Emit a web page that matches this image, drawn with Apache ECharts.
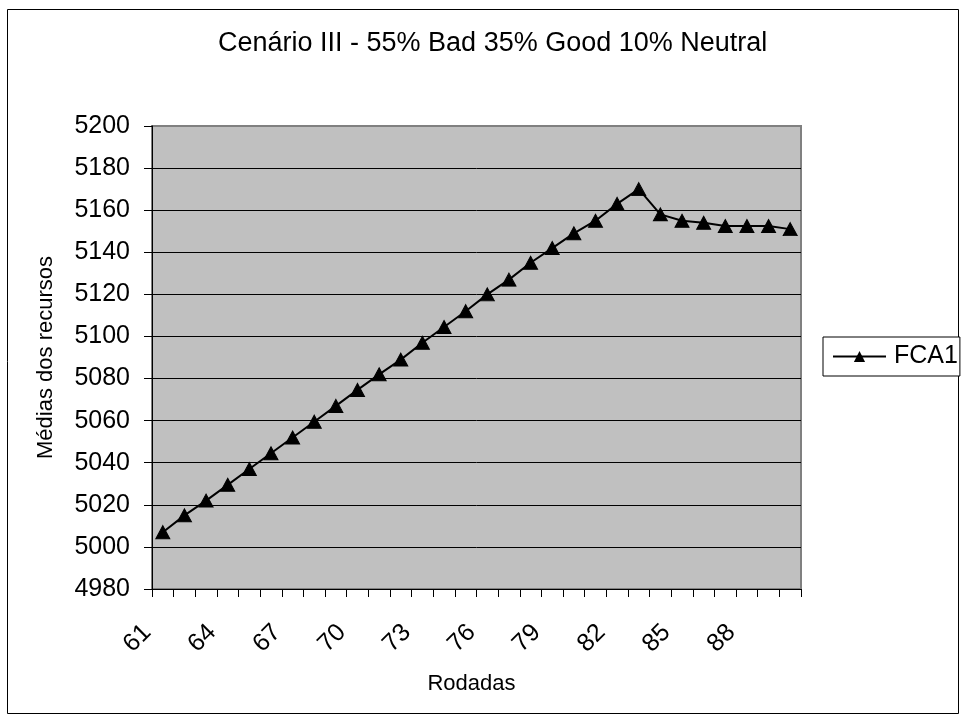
<!DOCTYPE html>
<html>
<head>
<meta charset="utf-8">
<script src="https://cdn.jsdelivr.net/npm/echarts@6/dist/echarts.min.js"></script>
<style>
  html, body { margin: 0; padding: 0; background: #fff; }
  #chart { width: 967px; height: 722px; }
</style>
</head>
<body>
<div id="chart"></div>
<script>
// Rounds 61..90
const rounds = [61, 62, 63, 64, 65, 66, 67, 68, 69, 70,
                71, 72, 73, 74, 75, 76, 77, 78, 79, 80,
                81, 82, 83, 84, 85, 86, 87, 88, 89, 90];

// Mean resources per round (FCA1)
const fca1 = [5007, 5015, 5022, 5029.5, 5037, 5044.5, 5052, 5059.5, 5067, 5074.6,
              5082, 5089, 5097, 5104.5, 5112, 5120, 5127, 5135, 5142, 5149,
              5155, 5163, 5170, 5158, 5155, 5154, 5152.5, 5152.5, 5152.5, 5151];

const seriesName = 'FCA1';
const chartTitle = 'Cenário III - 55% Bad 35% Good 10% Neutral';
const xTitle = 'Rodadas';
const yTitle = 'Médias dos recursos';
const yMin = 4980, yMax = 5200, yStep = 20;

const FONT = "'Liberation Sans', Arial, sans-serif";
const nSplit = (yMax - yMin) / yStep + 1;
const splitColors = [];
for (let i = 0; i < nSplit; i++) splitColors.push(i === nSplit - 1 ? '#808080' : '#000000');

const chart = echarts.init(document.getElementById('chart'), null, { renderer: 'canvas' });
chart.setOption({
  animation: false,
  backgroundColor: '#ffffff',
  textStyle: { fontFamily: FONT, color: '#000' },
  title: {
    text: chartTitle,
    left: 218,
    top: 30,
    padding: 0,
    textStyle: { fontFamily: FONT, fontSize: 27, fontWeight: 'normal', color: '#000' }
  },
  graphic: [{
    type: 'rect',
    shape: { x: 7.5, y: 9.5, width: 951, height: 704 },
    style: { fill: 'none', stroke: '#000', lineWidth: 1 },
    silent: true,
    z: -1
  }],
  legend: {
    data: [seriesName],
    left: 823,
    top: 337,
    orient: 'vertical',
    padding: [7, 2, 7, 9],
    itemWidth: 53,
    itemHeight: 14,
    borderColor: '#000',
    borderWidth: 1,
    backgroundColor: '#fff',
    textStyle: { fontFamily: FONT, fontSize: 25, color: '#000', padding: [0, 0, 0, 3] }
  },
  grid: {
    left: 152, right: 166, top: 126, bottom: 133,
    show: true,
    backgroundColor: '#c0c0c0',
    borderColor: '#808080',
    borderWidth: 2
  },
  xAxis: {
    type: 'category',
    data: rounds,
    boundaryGap: true,
    name: xTitle,
    nameLocation: 'middle',
    nameGap: 84,
    nameTextStyle: { fontFamily: FONT, fontSize: 22, color: '#000', padding: [0, 10, 0, 0] },
    axisLine: { show: true, lineStyle: { color: '#000', width: 1 } },
    axisTick: { show: true, interval: 0, length: 8, lineStyle: { color: '#000' } },
    axisLabel: {
      interval: 2,
      rotate: 45,
      margin: 24,
      padding: [0, 22, 0, 0],
      fontFamily: FONT,
      fontSize: 25,
      color: '#000'
    },
    splitLine: { show: false }
  },
  yAxis: {
    type: 'value',
    min: yMin,
    max: yMax,
    interval: yStep,
    name: yTitle,
    nameLocation: 'middle',
    nameGap: 95,
    nameTextStyle: { fontFamily: FONT, fontSize: 22, color: '#000' },
    axisLine: { show: true, lineStyle: { color: '#000', width: 1 } },
    axisTick: { show: true, length: 8, lineStyle: { color: '#000' } },
    axisLabel: {
      margin: 22,
      fontFamily: FONT,
      fontSize: 25,
      color: '#000',
      formatter: function (v) { return String(v); }
    },
    splitLine: { show: true, lineStyle: { color: splitColors, width: 1 } }
  },
  series: [{
    name: seriesName,
    type: 'line',
    data: fca1,
    symbol: 'triangle',
    symbolSize: [14, 13],
    showSymbol: true,
    lineStyle: { color: '#000', width: 2 },
    itemStyle: { color: '#000', borderColor: '#000' },
    z: 3
  }]
});
</script>
</body>
</html>
